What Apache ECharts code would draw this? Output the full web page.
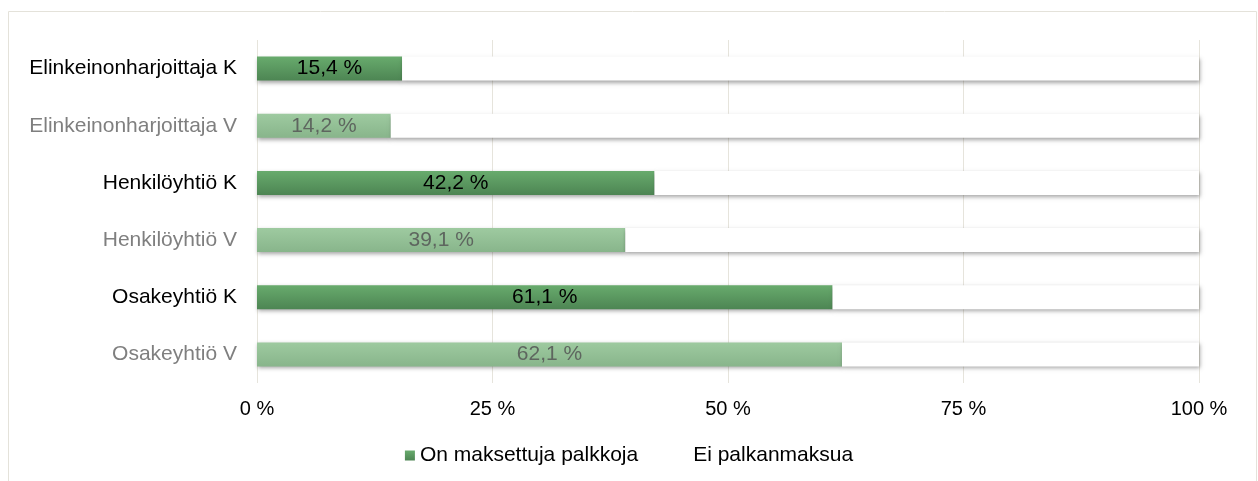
<!DOCTYPE html>
<html>
<head>
<meta charset="utf-8">
<script src="https://cdn.jsdelivr.net/npm/echarts@6/dist/echarts.min.js"></script>
<style>
    html, body { margin: 0; padding: 0; background: #fff; }
    #chart { width: 1258px; height: 481px; }
</style>
</head>
<body>
<div id="chart"></div>
<script>
const categories = [
    'Elinkeinonharjoittaja K',
    'Elinkeinonharjoittaja V',
    'Henkilöyhtiö K',
    'Henkilöyhtiö V',
    'Osakeyhtiö K',
    'Osakeyhtiö V',
];
const paidWages = [15.4, 14.2, 42.2, 39.1, 61.1, 62.1];
const noWages = [84.6, 85.8, 57.8, 60.9, 38.9, 37.9];
const xTicks = [0, 25, 50, 75, 100];

const darkGreen = new echarts.graphic.LinearGradient(0, 0, 0, 1, [
    { offset: 0, color: '#68ab6d' },
    { offset: 1, color: '#4d8553' },
]);
const lightGreen = new echarts.graphic.LinearGradient(0, 0, 0, 1, [
    { offset: 0, color: '#9ecaa0' },
    { offset: 1, color: '#88b58b' },
]);
const barShadow = {
    shadowColor: 'rgba(0, 0, 0, 0.35)',
    shadowBlur: 4,
    shadowOffsetX: 1,
    shadowOffsetY: 2,
};
const isK = (name) => name.endsWith(' K');

const option = {
    animation: false,
    textStyle: { fontFamily: 'Liberation Sans, Arial, sans-serif' },
    graphic: [
        {
            type: 'rect',
            shape: { x: 8.5, y: 11.5, width: 1248, height: 520 },
            style: { fill: 'none', stroke: '#e4e2da', lineWidth: 1 },
            silent: true,
        },
    ],
    grid: { left: 257, right: 59, top: 40, bottom: 98 },
    legend: {
        bottom: 10,
        left: 'center',
        itemWidth: 10,
        itemHeight: 10,
        itemGap: 40,
        textStyle: { fontSize: 21, color: '#000' },
        data: [
            { name: 'On maksettuja palkkoja', icon: 'rect' },
            { name: 'Ei palkanmaksua', icon: 'rect', itemStyle: { color: '#fff', shadowBlur: 0, shadowOffsetX: 0, shadowOffsetY: 0 } },
        ],
    },
    xAxis: {
        type: 'value',
        min: 0,
        max: 100,
        interval: 25,
        axisLine: { show: false },
        axisTick: { show: false },
        splitLine: { lineStyle: { color: '#e6e4dc', width: 1 } },
        axisLabel: {
            fontSize: 20,
            color: '#000',
            margin: 16,
            formatter: (v) => (xTicks.includes(v) ? v + ' %' : ''),
        },
    },
    yAxis: {
        type: 'category',
        inverse: true,
        data: categories.map((c) => ({
            value: c,
            textStyle: { color: isK(c) ? '#000' : '#7f7f7f' },
        })),
        axisLine: { show: false },
        axisTick: { show: false },
        axisLabel: { fontSize: 21, margin: 20 },
    },
    series: [
        {
            name: 'On maksettuja palkkoja',
            type: 'bar',
            stack: 'total',
            barWidth: 24,
            itemStyle: Object.assign({ color: darkGreen }, barShadow),
            data: paidWages.map((v, i) => ({
                value: v,
                itemStyle: { color: isK(categories[i]) ? darkGreen : lightGreen },
                label: { color: isK(categories[i]) ? '#000' : '#5e665f' },
            })),
            label: {
                show: true,
                position: 'inside',
                fontSize: 21,
                formatter: (p) => p.value.toFixed(1).replace('.', ',') + ' %',
            },
        },
        {
            name: 'Ei palkanmaksua',
            type: 'bar',
            stack: 'total',
            barWidth: 24,
            itemStyle: Object.assign({ color: '#fff' }, barShadow),
            data: noWages,
        },
    ],
};

const chart = echarts.init(document.getElementById('chart'));
chart.setOption(option);
</script>
</body>
</html>
